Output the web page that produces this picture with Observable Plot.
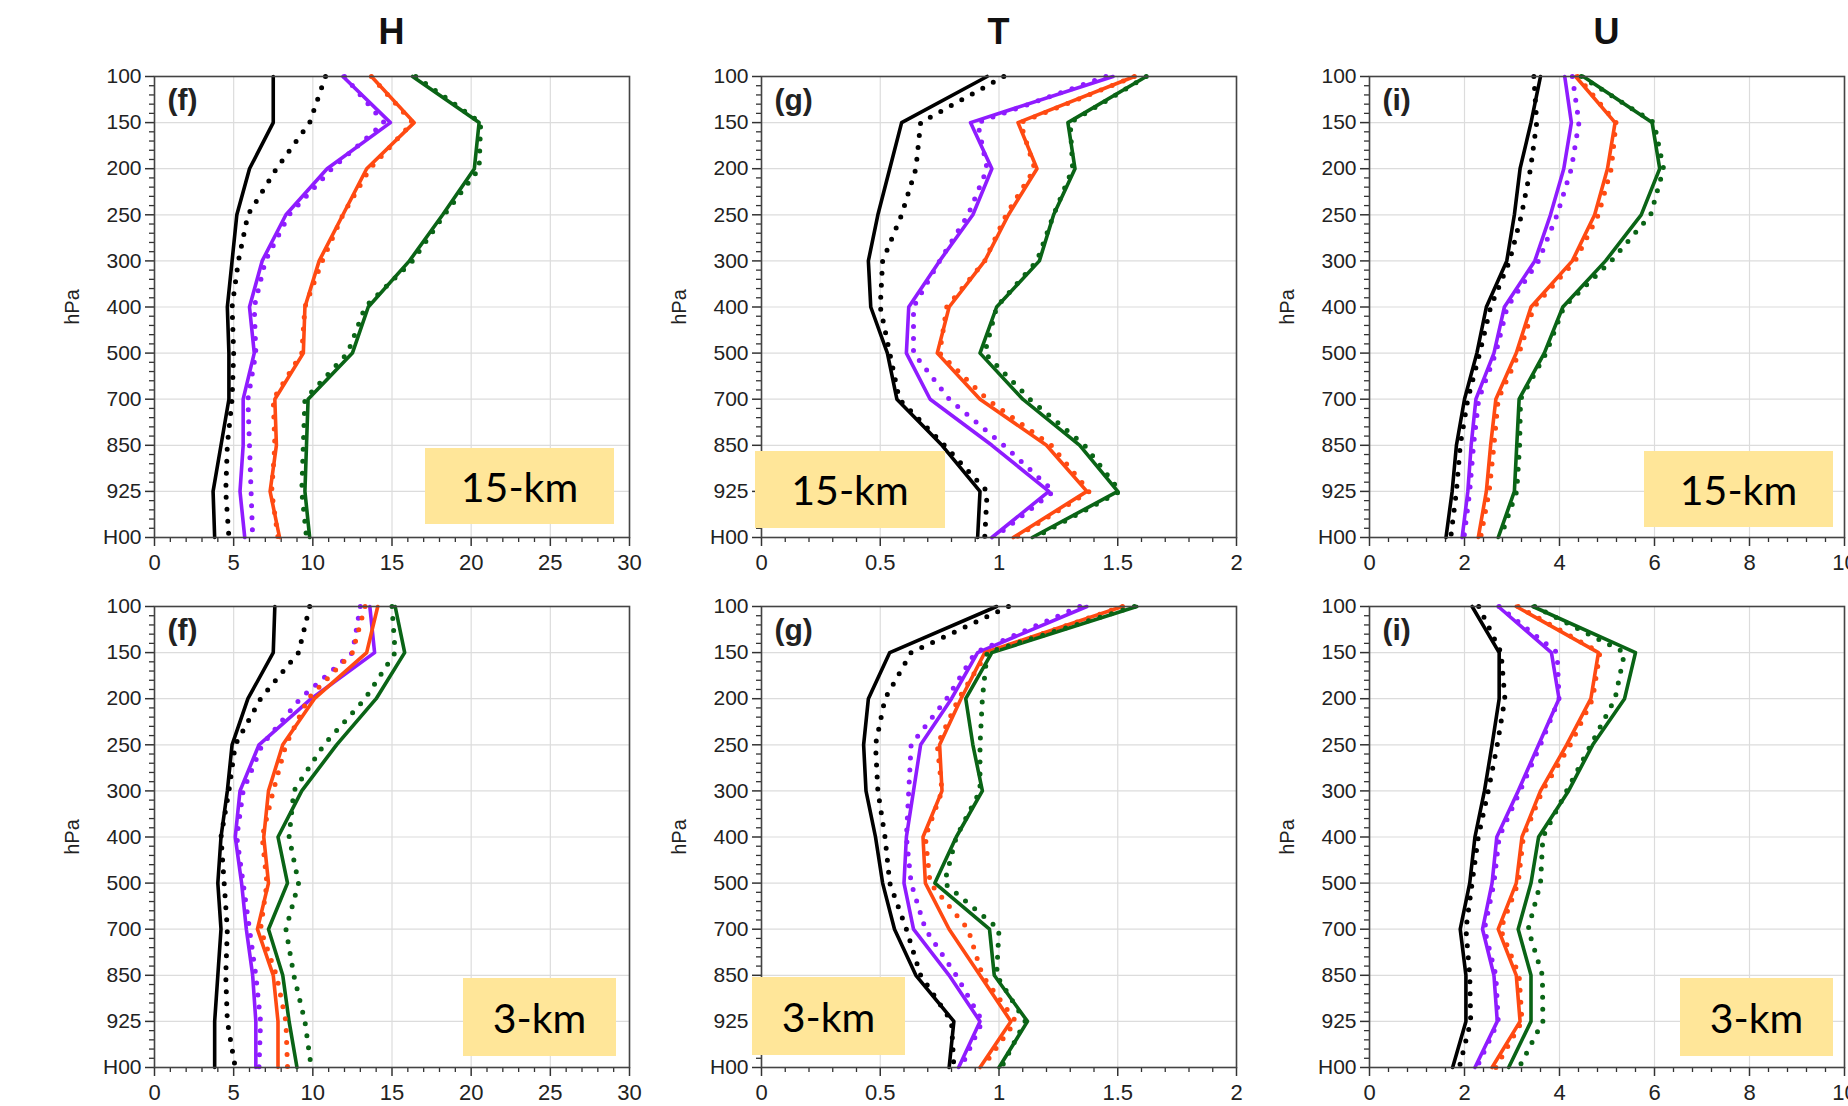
<!DOCTYPE html>
<html>
<head>
<meta charset="utf-8">
<script src="https://cdn.jsdelivr.net/npm/d3@7"></script>
<script src="https://cdn.jsdelivr.net/npm/@observablehq/plot@0.6"></script>
<style>
  body { margin: 0; background: #fff; }
  #root { position: relative; width: 1848px; height: 1106px; overflow: hidden; background: #fff; font-family: "Liberation Sans", Arial, sans-serif; }
  .panel { position: absolute; }
  .title { position: absolute; font-weight: bold; font-size: 36px; line-height: 1; transform: translateX(-50%); color: #111; }
  .ylab { position: absolute; font-size: 20px; color: #222; transform: translate(-50%, -50%) rotate(-90deg); white-space: nowrap; }
  .box { position: absolute; background: #FFE699; display: flex; align-items: center; justify-content: center; font-family: Lato, "Open Sans", sans-serif; font-size: 41px; color: #000; z-index: 5; }
</style>
</head>
<body>
<div id="root"></div>
<script>
// ---- categories ----
const levels = ["100", "150", "200", "250", "300", "400", "500", "700", "850", "925", "H00"];
const experiments = ["black", "purple", "orange", "green"];
const variables = ["H", "T", "U"];
const panelTags = ["(f)", "(g)", "(i)"];
const resolutions = ["15-km", "3-km"];

// ---- values (one row per experiment, 11 levels each) ----
const H15_solid = [
  [7.5, 7.5, 6.0, 5.2, 4.9, 4.6, 4.7, 4.7, 4.2, 3.7, 3.8],
  [11.9, 14.9, 10.9, 8.3, 6.8, 6.0, 6.3, 5.6, 5.6, 5.4, 5.7],
  [13.7, 16.4, 13.4, 11.9, 10.4, 9.5, 9.4, 7.6, 7.7, 7.3, 7.9],
  [16.3, 20.5, 20.2, 18.2, 16.1, 13.5, 12.5, 9.7, 9.6, 9.5, 9.8]
];
const H15_dotted = [
  [10.8, 9.8, 7.7, 5.9, 5.3, 4.9, 5.0, 4.9, 4.6, 4.5, 4.7],
  [12.0, 14.5, 11.2, 8.5, 7.0, 6.3, 6.4, 5.9, 6.0, 6.1, 6.2],
  [13.7, 16.3, 13.6, 11.9, 10.6, 9.5, 9.3, 7.5, 7.6, 7.4, 7.8],
  [16.5, 20.6, 20.5, 18.3, 16.3, 13.3, 12.2, 9.5, 9.4, 9.3, 9.6]
];
const T15_solid = [
  [0.95, 0.59, 0.54, 0.49, 0.45, 0.46, 0.53, 0.57, 0.76, 0.92, 0.91],
  [1.48, 0.88, 0.97, 0.89, 0.75, 0.62, 0.61, 0.71, 0.97, 1.21, 0.97],
  [1.57, 1.08, 1.16, 1.04, 0.94, 0.79, 0.74, 0.92, 1.20, 1.37, 1.06],
  [1.62, 1.29, 1.32, 1.23, 1.17, 0.99, 0.92, 1.10, 1.34, 1.50, 1.14]
];
const T15_dotted = [
  [1.02, 0.67, 0.65, 0.59, 0.51, 0.50, 0.54, 0.58, 0.77, 0.95, 0.94],
  [1.45, 0.91, 0.95, 0.87, 0.75, 0.64, 0.64, 0.79, 1.02, 1.23, 0.98],
  [1.57, 1.09, 1.15, 1.03, 0.94, 0.78, 0.75, 0.95, 1.22, 1.38, 1.07],
  [1.62, 1.30, 1.31, 1.23, 1.16, 0.99, 0.94, 1.13, 1.36, 1.51, 1.15]
];
const U15_solid = [
  [3.60, 3.40, 3.17, 3.05, 2.89, 2.46, 2.26, 2.00, 1.83, 1.74, 1.61],
  [4.11, 4.25, 4.09, 3.81, 3.48, 2.84, 2.62, 2.24, 2.14, 2.07, 1.95],
  [4.34, 5.17, 5.01, 4.74, 4.27, 3.40, 3.09, 2.66, 2.55, 2.46, 2.29],
  [4.50, 5.95, 6.11, 5.72, 4.97, 4.07, 3.68, 3.15, 3.10, 3.05, 2.71]
];
const U15_dotted = [
  [3.46, 3.52, 3.39, 3.20, 2.95, 2.55, 2.32, 2.07, 1.91, 1.83, 1.71],
  [4.27, 4.41, 4.25, 3.95, 3.56, 2.90, 2.66, 2.30, 2.19, 2.11, 1.99],
  [4.38, 5.19, 5.09, 4.82, 4.33, 3.46, 3.15, 2.71, 2.62, 2.52, 2.34],
  [4.46, 5.99, 6.19, 5.92, 5.09, 4.09, 3.72, 3.18, 3.16, 3.10, 2.76]
];
const H3_solid = [
  [7.6, 7.5, 5.9, 4.9, 4.6, 4.2, 4.0, 4.2, 4.0, 3.8, 3.8],
  [13.6, 13.9, 9.9, 6.6, 5.4, 5.1, 5.5, 5.8, 6.2, 6.4, 6.4],
  [14.1, 13.4, 10.1, 8.1, 7.2, 6.9, 7.2, 6.5, 7.5, 7.8, 7.8],
  [15.2, 15.8, 14.0, 11.5, 9.3, 7.8, 8.4, 7.2, 8.1, 8.5, 9.0]
];
const H3_dotted = [
  [9.8, 9.1, 6.7, 5.1, 4.7, 4.2, 4.4, 4.6, 4.5, 4.6, 5.1],
  [13.0, 12.5, 9.2, 6.8, 5.6, 5.2, 5.6, 6.0, 6.4, 6.7, 6.6],
  [13.3, 12.5, 9.7, 8.3, 7.5, 6.8, 7.1, 6.7, 7.7, 8.3, 8.4],
  [15.0, 15.2, 13.3, 10.7, 8.8, 8.5, 9.1, 8.3, 8.8, 9.5, 9.9]
];
const T3_solid = [
  [0.99, 0.54, 0.45, 0.43, 0.44, 0.48, 0.51, 0.56, 0.65, 0.81, 0.79],
  [1.37, 0.91, 0.80, 0.67, 0.64, 0.61, 0.60, 0.64, 0.79, 0.92, 0.83],
  [1.52, 0.94, 0.84, 0.75, 0.76, 0.68, 0.69, 0.79, 0.92, 1.05, 0.92],
  [1.58, 0.97, 0.86, 0.89, 0.93, 0.82, 0.73, 0.96, 0.98, 1.12, 1.00]
];
const T3_dotted = [
  [1.04, 0.63, 0.52, 0.48, 0.49, 0.52, 0.54, 0.61, 0.67, 0.80, 0.81],
  [1.34, 0.90, 0.78, 0.63, 0.62, 0.61, 0.63, 0.69, 0.82, 0.93, 0.84],
  [1.52, 0.95, 0.83, 0.74, 0.76, 0.69, 0.71, 0.87, 0.93, 1.07, 0.93],
  [1.57, 0.95, 0.93, 0.92, 0.92, 0.82, 0.77, 1.00, 0.99, 1.11, 1.01]
];
const U3_solid = [
  [2.16, 2.73, 2.73, 2.58, 2.42, 2.22, 2.11, 1.91, 2.03, 2.03, 1.75],
  [2.71, 3.83, 3.99, 3.56, 3.13, 2.68, 2.58, 2.38, 2.62, 2.69, 2.22],
  [3.09, 4.82, 4.66, 4.15, 3.60, 3.21, 3.09, 2.71, 3.09, 3.17, 2.58],
  [3.44, 5.60, 5.37, 4.70, 4.19, 3.56, 3.40, 3.13, 3.40, 3.40, 2.93]
];
const U3_dotted = [
  [2.30, 2.77, 2.85, 2.69, 2.50, 2.29, 2.16, 2.03, 2.11, 2.13, 1.89],
  [2.73, 3.95, 3.99, 3.60, 3.17, 2.73, 2.62, 2.42, 2.66, 2.71, 2.26],
  [3.13, 4.85, 4.70, 4.23, 3.64, 3.24, 3.13, 2.76, 3.15, 3.21, 2.66],
  [3.48, 5.37, 5.17, 4.66, 4.15, 3.65, 3.60, 3.34, 3.64, 3.65, 3.15]
];

// ---- axis ticks ----
const xTicksH = [0, 5, 10, 15, 20, 25, 30];
const xTicksT = [0, 0.5, 1, 1.5, 2];
const xTicksU = [0, 2, 4, 6, 8, 10];

// ---- styling / layout ----
const colorOf = { black: "#000000", purple: "#8f1cff", orange: "#ff4a12", green: "#0a6416" };
const FRAME_W = 475, FRAME_H = 461;
const colX = [154, 761, 1369];
const rowY = [76, 606];
const ML = 110, MR = 4, MT = 20, MB = 50;

const root = document.getElementById("root");

function makeRows(set) {
  const rows = [];
  set.forEach((vals, si) => vals.forEach((v, li) => rows.push({ exp: experiments[si], li, v })));
  return rows;
}

function panel(solid, dotted, xDomain, xTicks, minorStep, tag) {
  const solidRows = makeRows(solid);
  const dottedRows = makeRows(dotted);
  const idx = d3.range(levels.length);
  const yMinor = d3.range(0, levels.length - 1 + 1e-9, 0.2).filter(v => Math.abs(v - Math.round(v)) > 1e-6);
  const xMinor = d3.range(xDomain[0], xDomain[1] + 1e-9, minorStep).filter(v => !xTicks.some(t => Math.abs(t - v) < 1e-6));
  const marks = [
    Plot.gridX(xTicks, { stroke: "#dcdcdc", strokeOpacity: 1, strokeWidth: 1.2 }),
    Plot.gridY(idx, { stroke: "#dcdcdc", strokeOpacity: 1, strokeWidth: 1.2 }),
    Plot.axisX(xMinor, { tickSize: 5, text: null, stroke: "#333", strokeWidth: 1.3, label: null }),
    Plot.axisX(xTicks, { tickSize: 9, tickPadding: 8, fontSize: 22, tickFormat: d => String(d), stroke: "#333", strokeWidth: 1.5, fill: "#222", label: null }),
    Plot.axisY(yMinor, { tickSize: 5, text: null, stroke: "#333", strokeWidth: 1.3, label: null }),
    Plot.axisY(idx, { tickSize: 9, tickPadding: 4, tickFormat: i => levels[i], stroke: "#333", strokeWidth: 1.5, fill: "#222", label: null })
  ];
  experiments.forEach(e => {
    marks.push(Plot.line(solidRows.filter(d => d.exp === e), { x: "v", y: "li", stroke: colorOf[e], strokeWidth: 3.6, strokeLinejoin: "round" }));
  });
  experiments.forEach(e => {
    marks.push(Plot.line(dottedRows.filter(d => d.exp === e), { x: "v", y: "li", stroke: colorOf[e], strokeWidth: 5, strokeDasharray: "0,12", strokeLinecap: "round" }));
  });
  marks.push(Plot.frame({ stroke: "#444", strokeWidth: 1.6 }));
  marks.push(Plot.text([tag], { frameAnchor: "top-left", dx: 13, dy: 12, fontWeight: "bold", fontSize: 30, lineAnchor: "top", textAnchor: "start", fill: "#222" }));
  return Plot.plot({
    width: ML + FRAME_W + MR,
    height: MT + FRAME_H + MB,
    marginLeft: ML, marginRight: MR, marginTop: MT, marginBottom: MB,
    style: { fontFamily: "'Liberation Sans', Arial, sans-serif", fontSize: "21px", color: "#222", background: "transparent", overflow: "visible" },
    x: { domain: xDomain, label: null },
    y: { domain: [0, levels.length - 1], reverse: true, label: null },
    marks
  });
}

const panelDefs = [
  [H15_solid, H15_dotted, [0, 30], xTicksH, 1],
  [T15_solid, T15_dotted, [0, 2], xTicksT, 0.1],
  [U15_solid, U15_dotted, [0, 10], xTicksU, 0.4],
  [H3_solid, H3_dotted, [0, 30], xTicksH, 1],
  [T3_solid, T3_dotted, [0, 2], xTicksT, 0.1],
  [U3_solid, U3_dotted, [0, 10], xTicksU, 0.4]
];

panelDefs.forEach((def, k) => {
  const r = Math.floor(k / 3), c = k % 3;
  const wrap = document.createElement("div");
  wrap.className = "panel";
  wrap.style.left = (colX[c] - ML) + "px";
  wrap.style.top = (rowY[r] - MT) + "px";
  wrap.appendChild(panel(def[0], def[1], def[2], def[3], def[4], panelTags[c]));
  root.appendChild(wrap);

  const yl = document.createElement("div");
  yl.className = "ylab";
  yl.textContent = "hPa";
  yl.style.left = (colX[c] - 82) + "px";
  yl.style.top = (rowY[r] + FRAME_H / 2) + "px";
  root.appendChild(yl);
});

variables.forEach((v, c) => {
  const t = document.createElement("div");
  t.className = "title";
  t.textContent = v;
  t.style.left = (colX[c] + FRAME_W / 2) + "px";
  t.style.top = "14px";
  root.appendChild(t);
});

// resolution labels: [left, top, width, height]
const boxRects = [
  [425, 448, 189, 76], [755, 451, 190, 77], [1644, 451, 189, 76],
  [463, 978, 153, 78], [752, 977, 153, 78], [1680, 978, 153, 78]
];
boxRects.forEach((b, k) => {
  const d = document.createElement("div");
  d.className = "box";
  d.textContent = resolutions[Math.floor(k / 3)];
  d.style.left = b[0] + "px"; d.style.top = b[1] + "px";
  d.style.width = b[2] + "px"; d.style.height = b[3] + "px";
  root.appendChild(d);
});
</script>
</body>
</html>
